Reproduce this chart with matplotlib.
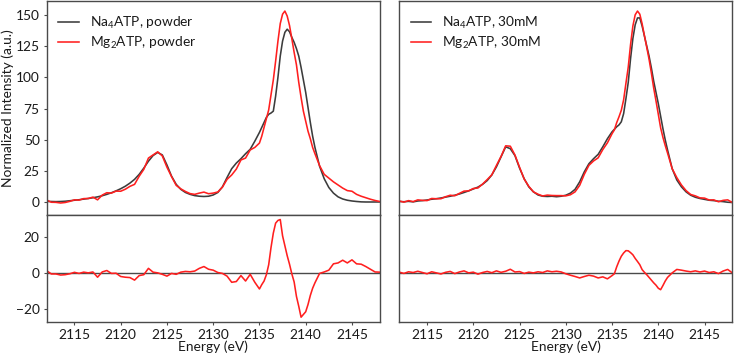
import numpy as np
import matplotlib
matplotlib.use("Agg")
import matplotlib.pyplot as plt

plt.rcParams['font.family'] = ['Lato', 'DejaVu Sans']
plt.rcParams['mathtext.default'] = 'regular'

# Energy grid (eV): 0.5 eV steps, 0.25 eV steps around the main peak
energy = np.concatenate([np.arange(2112.0, 2134.75, 0.5),
                         np.arange(2135.0, 2141.1, 0.25),
                         np.arange(2141.5, 2148.1, 0.5)])

na_powder = [0.8, 0.8, 0.7, 0.8, 1.0, 1.4, 1.8, 2.2, 2.7, 3.2,
             3.8, 4.5, 5.4, 6.5, 7.8, 9.3, 11.0, 13.0, 15.5, 18.5,
             22.5, 27.5, 33.0, 37.5, 40.0, 38.0, 30.0, 21.0, 14.5, 10.5,
             8.0, 6.5, 5.5, 5.0, 4.8, 5.0, 6.0, 8.0, 12.5, 20.0,
             27.0, 31.5, 35.0, 39.0, 42.5, 49.0,
             56.0, 60.0, 64.0, 68.0, 70.5, 71.5, 73.0, 85.0, 100.0,
             117.0, 129.0, 136.0, 138.5, 136.5, 132.0, 128.0, 123.0, 117.0,
             108.0, 98.0, 88.0, 76.0, 64.0, 53.0, 44.0,
             29.0, 19.0, 12.0, 7.5, 4.5,
             2.8, 1.8, 1.2, 0.8, 0.5, 0.4, 0.4, 0.4, 0.4]

mg_powder = [2.0, 0.2, 0.1, -0.4, 0.0, 0.9, 2.1, 1.9, 3.1, 3.2,
             4.3, 2.1, 5.9, 7.8, 7.5, 9.1, 9.0, 10.6, 12.9, 14.5,
             21.0, 26.5, 35.5, 38.0, 40.5, 37.2, 28.2, 20.7, 13.7, 10.9,
             8.8, 7.1, 6.5, 7.5, 8.3, 7.0, 7.5, 8.4, 12.3, 18.5,
             22.0, 26.7, 34.0, 35.5, 42.0, 44.0,
             47.5, 53.0, 60.0, 67.0, 74.0, 86.0, 98.0, 113.0, 129.0,
             143.0, 150.5, 153.0, 149.0, 141.5, 131.0, 120.0, 110.0, 96.0,
             84.0, 73.0, 65.0, 57.0, 51.0, 44.0, 39.0,
             29.5, 22.5, 19.5, 16.5, 14.0,
             11.5, 9.5, 9.0, 6.5, 5.0, 3.8, 2.6, 1.6, 0.8]

diff_powder = [1.2, -0.6, -0.6, -1.2, -1.0, -0.5, 0.3, -0.3, 0.4, 0.0,
               0.5, -2.4, 0.5, 1.3, -0.3, -0.2, -2.0, -2.4, -2.6, -4.0,
               -1.5, -1.0, 2.5, 0.4, 0.0, -0.8, -1.8, -0.3, -0.8, 0.4,
               0.8, 0.6, 1.0, 2.5, 3.5, 2.0, 1.5, 0.2, -0.3, -1.8,
               -5.2, -4.8, -1.5, -4.5, -0.8, -5.2,
               -8.9, -6.5, -4.5, -1.0, 4.5, 14.0, 22.0, 27.5, 29.0,
               29.5, 20.5, 15.0, 9.5, 4.8, -0.5, -5.0, -13.0, -18.5,
               -24.5, -23.0, -21.5, -17.5, -12.5, -8.5, -5.5,
               -0.3, 0.5, 1.5, 5.0, 5.5,
               7.0, 5.5, 7.2, 5.0, 4.8, 3.5, 2.0, 0.5, 0.4]

na_30mm = [0.8, 0.6, 0.9, 0.5, 1.2, 1.5, 2.0, 2.6, 3.0, 3.6,
           4.3, 5.0, 5.8, 6.8, 8.0, 9.3, 10.8, 12.3, 14.5, 17.5,
           22.0, 28.5, 36.5, 44.5, 43.0, 37.5, 27.5, 19.0, 12.5, 8.5,
           6.0, 5.0, 4.8, 5.0, 4.6, 5.0, 5.8, 7.5, 10.5, 16.5,
           24.5, 31.0, 35.0, 38.5, 44.5, 51.0,
           56.5, 58.5, 60.5, 62.0, 64.5, 71.0, 83.0, 96.0, 115.0,
           131.0, 142.0, 147.5, 147.5, 141.0, 133.0, 125.0, 117.0, 107.5,
           97.0, 88.0, 79.0, 69.0, 59.0, 50.0, 42.0,
           27.0, 18.0, 12.5, 8.5, 5.8,
           4.2, 3.2, 2.5, 1.8, 1.5, 1.0, 0.7, 0.2, 0.0]

mg_30mm = [1.2, 0.3, 1.5, 0.7, 2.1, 1.7, 1.5, 3.2, 3.0, 3.0,
           4.6, 5.8, 5.4, 7.3, 9.1, 9.3, 11.2, 11.6, 14.7, 18.3,
           22.1, 29.6, 36.8, 45.3, 45.0, 38.0, 28.2, 18.7, 12.9, 8.5,
           6.6, 5.2, 5.9, 5.6, 5.5, 5.5, 5.3, 6.2, 8.5, 13.7,
           22.5, 29.7, 33.2, 35.7, 42.3, 47.7,
           55.0, 58.0, 63.8, 68.5, 73.7, 82.0, 95.3, 108.2, 126.2,
           141.0, 150.0, 153.0, 150.5, 142.8, 133.3, 124.0, 114.5, 103.5,
           91.5, 81.2, 70.5, 59.7, 52.0, 45.5, 39.5,
           27.0, 19.9, 14.0, 9.5, 6.4,
           5.3, 3.7, 3.5, 2.0, 2.1, 0.6, 1.7, 2.1, 0.0]

diff_30mm = [0.4, -0.3, 0.6, 0.2, 0.9, 0.2, -0.5, 0.6, 0.0, -0.6,
             0.3, 0.8, -0.4, 0.5, 1.1, 0.0, 0.4, -0.7, 0.2, 0.8,
             0.1, 1.1, 0.3, 0.9, 2.0, 0.5, 0.7, -0.3, 0.4, 0.0,
             0.6, 0.2, 1.1, 0.6, 0.9, 0.5, -0.5, -1.3, -2.0, -2.8,
             -2.0, -1.3, -1.8, -2.8, -2.2, -3.3,
             -1.5, -0.5, 3.3, 6.5, 9.2, 11.0, 12.3, 12.2, 11.2,
             10.0, 8.0, 6.3, 4.5, 1.8, 0.3, -1.0, -2.5, -4.0,
             -5.5, -6.8, -8.5, -9.3, -7.0, -4.5, -2.5,
             0.0, 1.9, 1.5, 1.0, 0.6,
             1.1, 0.5, 1.0, 0.2, 0.6, -0.4, 1.0, 1.9, 0.0]

labels_powder = ['Na$_4$ATP, powder', 'Mg$_2$ATP, powder']
labels_30mm = ['Na$_4$ATP, 30mM', 'Mg$_2$ATP, 30mM']
top_yticks = [0, 25, 50, 75, 100, 125, 150]
bot_yticks = [-20, 0, 20]
xticks = [2115, 2120, 2125, 2130, 2135, 2140, 2145]

for arr in (na_powder, mg_powder, diff_powder, na_30mm, mg_30mm, diff_30mm):
    assert len(arr) == len(energy), (len(arr), len(energy))

GREY = '#3c3c3c'
RED = '#ff1f1f'
SPINE = '#4a4a4a'
TXT = '#1a1a1a'
FS = 9.9

fig = plt.figure(figsize=(7.34, 3.59), dpi=100)
W = 0.4537
lefts = [0.0636, 0.5440]
top_b, top_h = 0.4011, 0.5960
bot_b, bot_h = 0.1039, 0.2972

panels = [(na_powder, mg_powder, diff_powder, labels_powder),
          (na_30mm, mg_30mm, diff_30mm, labels_30mm)]

for i, (na, mg, df, labs) in enumerate(panels):
    axt = fig.add_axes([lefts[i], top_b, W, top_h])
    axb = fig.add_axes([lefts[i], bot_b, W, bot_h])
    axt.plot(energy, na, color=GREY, lw=1.15, label=labs[0])
    axt.plot(energy, mg, color=RED, lw=1.15, label=labs[1])
    axb.axhline(0, color=SPINE, lw=1.0)
    axb.plot(energy, df, color=RED, lw=1.15)
    for ax in (axt, axb):
        ax.set_xlim(2112, 2148)
        for s in ax.spines.values():
            s.set_color(SPINE)
            s.set_linewidth(1.0)
        ax.tick_params(colors=SPINE, labelcolor=TXT, labelsize=FS,
                       length=2.5, width=0.8, pad=2.5)
    axt.set_ylim(-10, 161)
    axb.set_ylim(-27, 32)
    axt.set_xticks([])
    axb.set_xticks(xticks)
    axt.set_yticks(top_yticks)
    axb.set_yticks(bot_yticks)
    axb.set_xlabel('Energy (eV)', fontsize=FS, color=TXT, labelpad=0)
    if i == 0:
        axt.set_ylabel('Normalized Intensity (a.u.)', fontsize=FS, color=TXT)
        axt.yaxis.set_label_coords(-0.099, 0.5)
    else:
        axt.tick_params(axis='y', labelleft=False, length=0)
        axb.tick_params(axis='y', labelleft=False, length=0)
    leg = axt.legend(loc='upper left', bbox_to_anchor=(0.0, 0.988),
                     frameon=False, fontsize=FS,
                     handlelength=1.5, handletextpad=0.8,
                     labelspacing=0.25, borderaxespad=0.42)
    for t in leg.get_texts():
        t.set_color(TXT)

fig.savefig('out.png', dpi=100)
